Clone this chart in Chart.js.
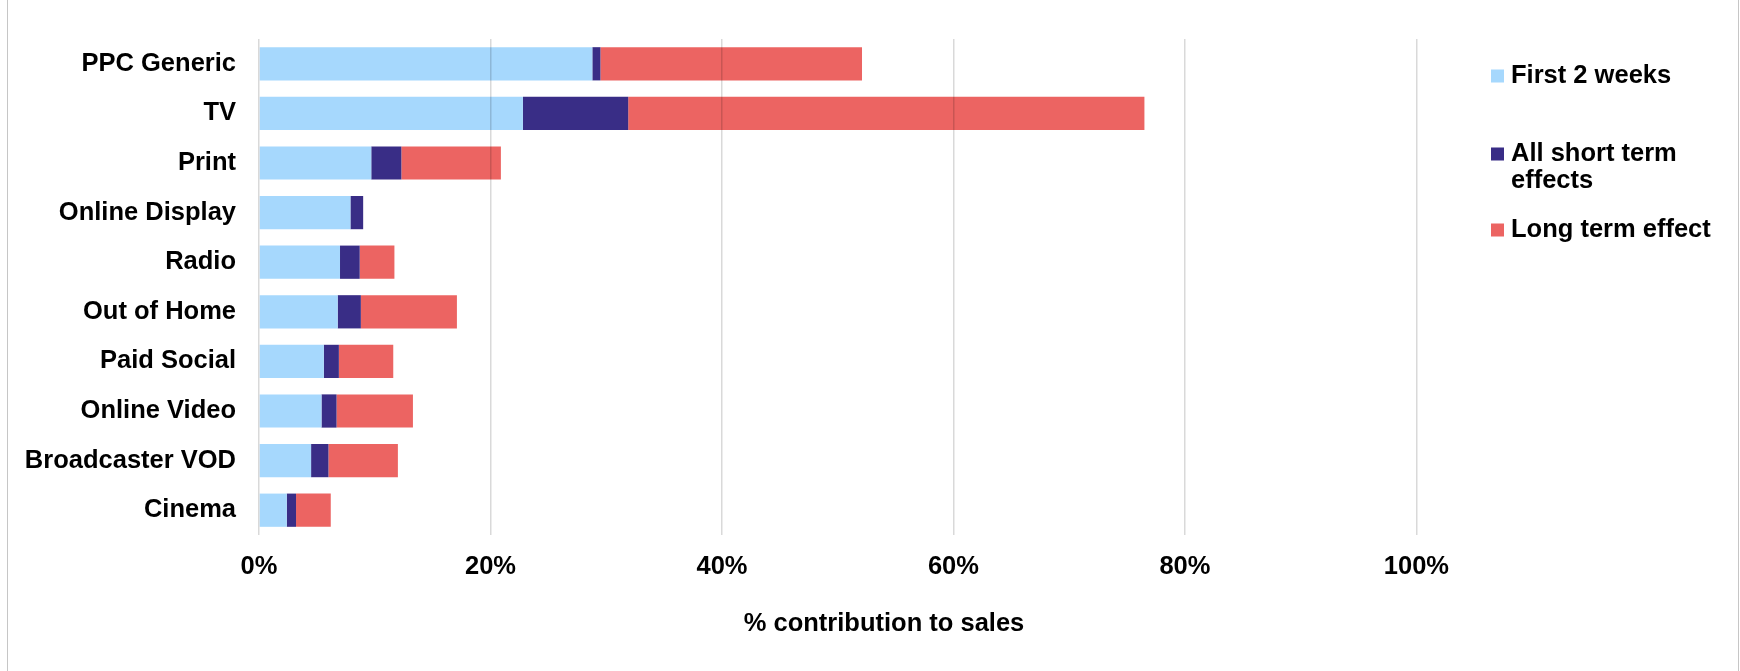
<!DOCTYPE html>
<html>
<head>
<meta charset="utf-8">
<script src="https://cdn.jsdelivr.net/npm/chart.js@4.4.1/dist/chart.umd.min.js"></script>
<style>
    html, body { margin: 0; padding: 0; background: #fff; }
    #wrap { position: relative; width: 1740px; height: 671px; }
    #frame {
        position: absolute; left: 7px; top: 0; width: 1730px; height: 671px;
        border-left: 1px solid #c6c6c6; border-right: 1px solid #c6c6c6;
        pointer-events: none;
    }
</style>
</head>
<body>
<div id="wrap">
    <canvas id="ourChart" width="1740" height="671"></canvas>
    <div id="frame"></div>
</div>
<script>
// channels, top to bottom
const channels = ['PPC Generic', 'TV', 'Print', 'Online Display', 'Radio',
    'Out of Home', 'Paid Social', 'Online Video', 'Broadcaster VOD', 'Cinema'];

// % contribution to sales, each segment of the stack
const firstTwoWeeks = [28.8, 22.8, 9.7, 7.9, 7.0, 6.8, 5.6, 5.4, 4.5, 2.4];
const allShortTerm  = [0.7, 9.1, 2.6, 1.1, 1.7, 2.0, 1.3, 1.3, 1.5, 0.8];
const longTerm      = [22.6, 44.6, 8.6, 0, 3.0, 8.3, 4.7, 6.6, 6.0, 3.0];

const seriesNames = ['First 2 weeks', 'All short term effects', 'Long term effect'];
const xTicks = [0, 20, 40, 60, 80, 100];

const FONT = { family: '"Liberation Sans", Arial, Helvetica, sans-serif', size: 25.5, weight: 'bold' };

// legend on the right, labels wrapped like the original
const sideLegend = {
    id: 'sideLegend',
    afterDraw(chart) {
        const ctx = chart.ctx;
        const rowY = [76, 154, 230];
        ctx.save();
        ctx.font = 'bold 25.5px "Liberation Sans", Arial, Helvetica, sans-serif';
        ctx.textBaseline = 'middle';
        ctx.textAlign = 'left';
        chart.data.datasets.forEach((ds, i) => {
            ctx.fillStyle = ds.backgroundColor;
            ctx.fillRect(1491, rowY[i] - 6.5, 13, 13);
            ctx.fillStyle = '#000';
            let lines = [], line = '';
            ds.label.split(' ').forEach(w => {
                let test = line ? line + ' ' + w : w;
                if (ctx.measureText(test).width > 210 && line) {
                    lines.push(line);
                    line = w;
                } else {
                    line = test;
                }
            });
            lines.push(line);
            lines.forEach((l, j) => ctx.fillText(l, 1511, rowY[i] + j * 27));
        });
        ctx.restore();
    }
};

const chartElement = new Chart(document.getElementById('ourChart'), {
    type: 'bar',
    data: {
        labels: channels,
        datasets: [
            { label: seriesNames[0], data: firstTwoWeeks, backgroundColor: '#a6d8fd' },
            { label: seriesNames[1], data: allShortTerm, backgroundColor: '#392d86' },
            { label: seriesNames[2], data: longTerm, backgroundColor: '#ec6462' }
        ]
    },
    options: {
        indexAxis: 'y',
        responsive: false,
        animation: false,
        datasets: { bar: { categoryPercentage: 0.67, barPercentage: 1.0, borderWidth: 0 } },
        layout: { padding: { top: 39, right: 231, left: 0, bottom: 0 } },
        plugins: { legend: { display: false }, tooltip: { enabled: false } },
        scales: {
            x: {
                stacked: true,
                min: 0,
                max: 108,
                afterBuildTicks: s => { s.ticks = xTicks.map(v => ({ value: v })); },
                afterFit: s => { s.height = 136; },
                grid: { color: 'rgba(0,0,0,0.15)', lineWidth: 1.5, drawTicks: false, z: 1 },
                border: { display: false },
                ticks: { padding: 17, color: '#000', font: FONT, callback: v => v + '%' },
                title: {
                    display: true, text: '% contribution to sales', color: '#000', font: FONT,
                    padding: { top: 0, bottom: 32 }
                }
            },
            y: {
                stacked: true,
                afterFit: s => { s.width = 259; },
                grid: { display: false, drawTicks: false },
                border: { display: false },
                ticks: { padding: 23, color: '#000', font: FONT }
            }
        }
    },
    plugins: [sideLegend]
});
</script>
</body>
</html>
